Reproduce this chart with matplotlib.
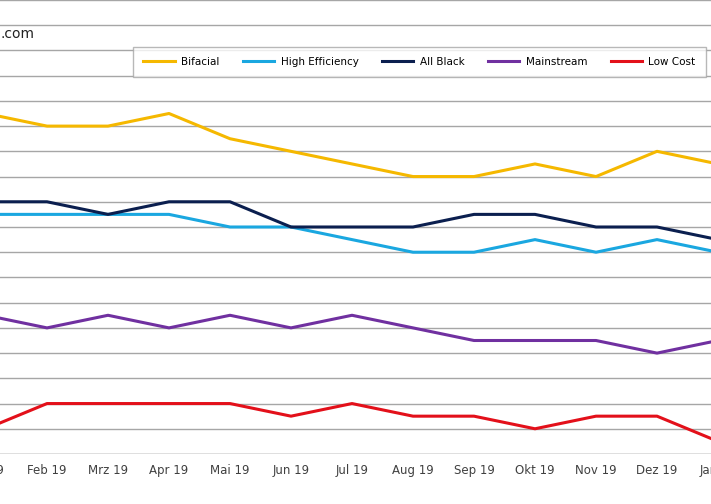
import matplotlib
matplotlib.use("Agg")
import matplotlib.pyplot as plt

months = ["Jan 19","Feb 19","Mrz 19","Apr 19","Mai 19","Jun 19","Jul 19","Aug 19","Sep 19","Okt 19","Nov 19","Dez 19","Jan 20"]
bifacial   = [13.5,13.0,13.0,13.5,12.5,12.0,11.5,11.0,11.0,11.5,11.0,12.0,11.5]
high_eff   = [9.5,9.5,9.5,9.5,9.0,9.0,8.5,8.0,8.0,8.5,8.0,8.5,8.0]
all_black  = [10.0,10.0,9.5,10.0,10.0,9.0,9.0,9.0,9.5,9.5,9.0,9.0,8.5]
mainstream = [5.5,5.0,5.5,5.0,5.5,5.0,5.5,5.0,4.5,4.5,4.5,4.0,4.5]
low_cost   = [1.0,2.0,2.0,2.0,2.0,1.5,2.0,1.5,1.5,1.0,1.5,1.5,0.5]

series = [("Bifacial", bifacial, "#F5B800"), ("High Efficiency", high_eff, "#1AA7E0"),
          ("All Black", all_black, "#0B1F4F"), ("Mainstream", mainstream, "#7030A0"),
          ("Low Cost", low_cost, "#E3101A")]

fig = plt.figure(figsize=(7.11, 5.04), dpi=100)
ax = fig.add_axes([0, 50/504, 1, 454/504])
x = list(range(len(months)))
for name, vals, c in series:
    ax.plot(x, vals, color=c, lw=2.2, label=name)
ax.set_xlim(14/61, 725/61)
ax.set_ylim(0, 18)
ax.set_yticks(range(0, 19))
ax.yaxis.grid(True, color="#A6A6A6", lw=1)
ax.tick_params(left=False, labelleft=False, bottom=False, labelbottom=False)
for s in ax.spines.values():
    s.set_visible(False)
ax.axhline(0, color="#A6A6A6", lw=1)
for i, m in enumerate(months):
    ax.text(i, -0.65, m, ha="center", va="center", fontsize=8.5, color="#404040", clip_on=False)
ax.text(0.0, 1 - 34/504, ".com", transform=fig.transFigure, fontsize=10, color="#222222", va="center")
leg = ax.legend(loc="center", bbox_to_anchor=(133/711, 1 - 90/454, 573/711, 56/454), mode="expand",
                ncol=5, frameon=True, fancybox=False, edgecolor="#A6A6A6", fontsize=7.5,
                borderaxespad=0, borderpad=1.0, handlelength=3.0, columnspacing=1.0, handletextpad=0.6)
leg.get_frame().set_linewidth(1)
fig.savefig("out.png", dpi=100)
